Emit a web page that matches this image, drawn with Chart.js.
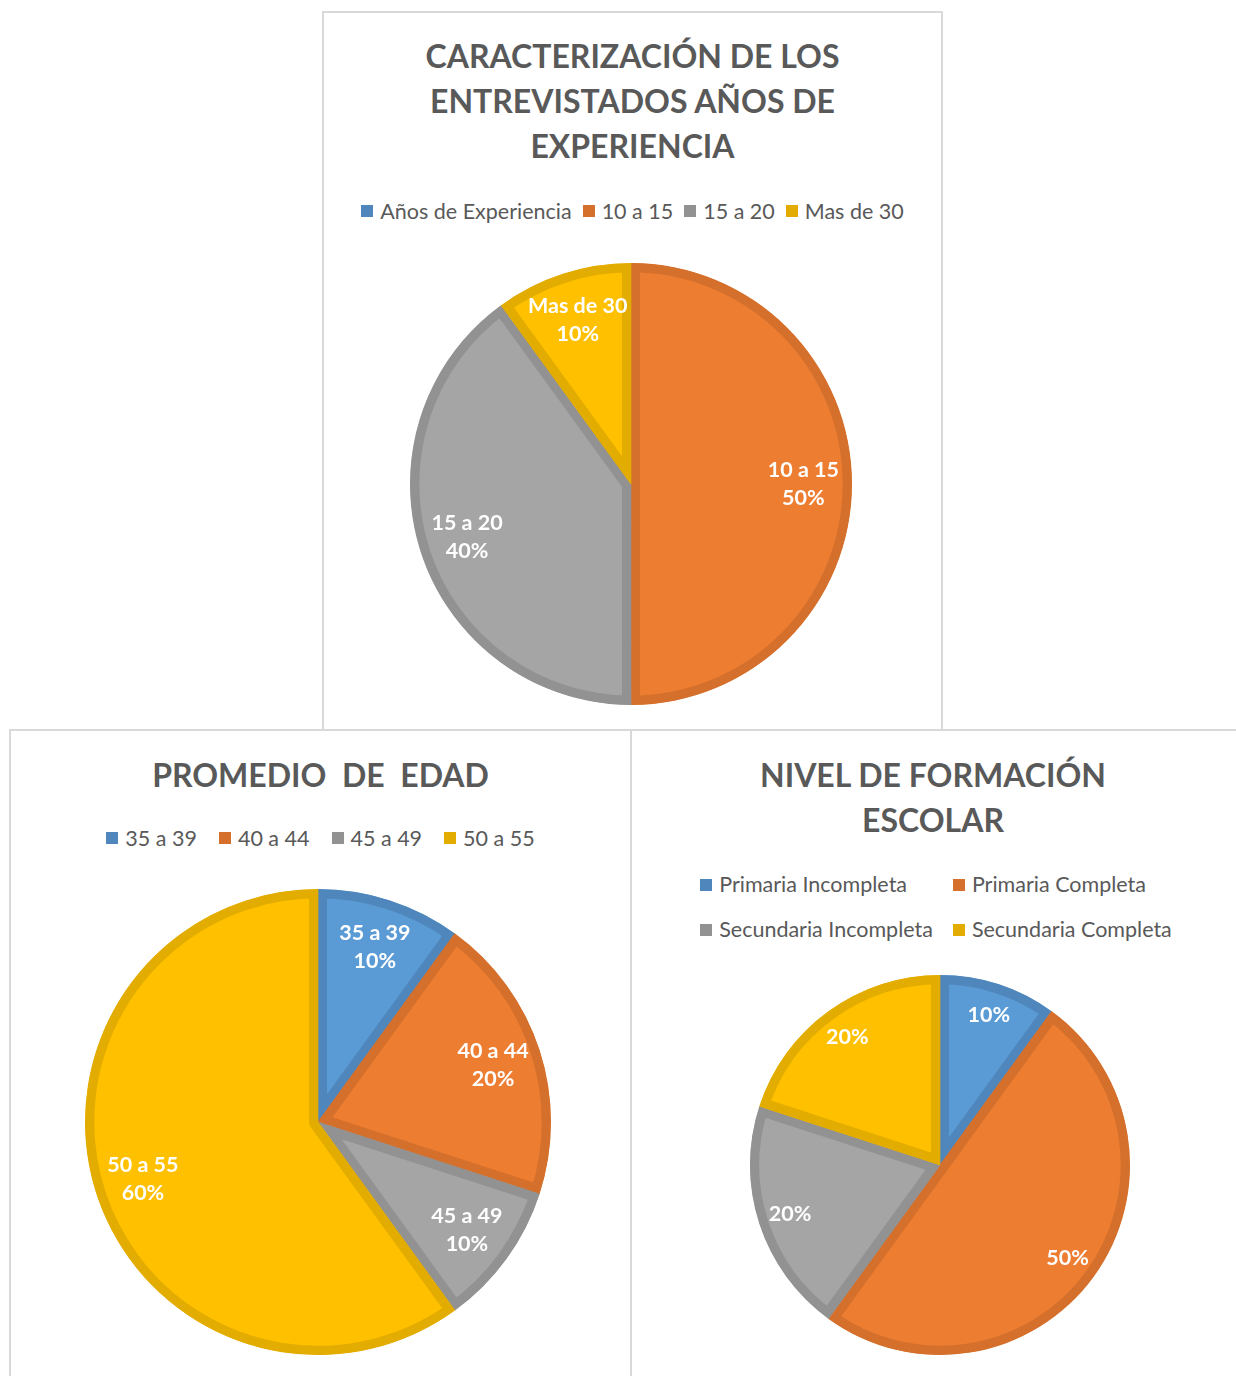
<!DOCTYPE html>
<html>
<head>
<meta charset="utf-8">
<script src="https://cdn.jsdelivr.net/npm/chart.js@4.4.0/dist/chart.umd.min.js"></script>
<style>
  body { margin: 0; width: 1236px; height: 1376px; position: relative; overflow: hidden; background: #fff;
         font-family: Lato, "Open Sans", sans-serif; color: #595959; }
  .box { position: absolute; border: 2px solid #d9d9d9; box-sizing: border-box; }
  .title { position: absolute; left: 0; right: 0; text-align: center; font-weight: bold; font-size: 32px;
           line-height: 45px; white-space: pre; }
  .legend { position: absolute; left: 0; right: 0; display: flex; justify-content: center; font-size: 21.5px; line-height: 24px; }
  .legend.grid { display: grid; grid-template-columns: auto auto; justify-content: center; column-gap: 20px; line-height: 45px; }
  .item { display: flex; align-items: center; white-space: pre; }
  .swatch { width: 12px; height: 12px; margin-right: 7px; }
  canvas { position: absolute; }
</style>
</head>
<body>
<div class="box" id="box1" style="left:322px;top:11px;width:621px;height:720px">
  <div class="title" style="top:20px">CARACTERIZACIÓN DE LOS
ENTREVISTADOS AÑOS DE
EXPERIENCIA</div>
  <div class="legend" id="legend1" style="top:186px;column-gap:11px"></div>
</div>
<div class="box" id="box2" style="left:9px;top:729px;width:623px;height:700px">
  <div class="title" style="top:21px">PROMEDIO  DE  EDAD</div>
  <div class="legend" id="legend2" style="top:95px;column-gap:22px"></div>
</div>
<div class="box" id="box3" style="left:630px;top:729px;width:620px;height:700px">
  <div class="title" style="top:21px;right:14px">NIVEL DE FORMACIÓN
ESCOLAR</div>
  <div class="legend grid" id="legend3" style="top:131px;right:8px"></div>
</div>

<canvas id="pie1" width="460" height="460" style="left:401px;top:254px"></canvas>
<canvas id="pie2" width="480" height="480" style="left:78px;top:882px"></canvas>
<canvas id="pie3" width="400" height="400" style="left:740px;top:965px"></canvas>

<script>
// data
const expLabels = ["Años de Experiencia", "10 a 15", "15 a 20", "Mas de 30"];
const expValues = [0, 50, 40, 10];

const ageLabels = ["35 a 39", "40 a 44", "45 a 49", "50 a 55"];
const ageValues = [10, 20, 10, 60];

const eduLabels = ["Primaria Incompleta", "Primaria Completa", "Secundaria Incompleta", "Secundaria Completa"];
const eduValues = [10, 50, 20, 20];

const fills = ["#5B9BD5", "#ED7D31", "#A5A5A5", "#FFC000"];
const edges = ["#4F87BD", "#D4702B", "#929292", "#E3AC00"];

function buildLegend(id, labels) {
  const el = document.getElementById(id);
  labels.forEach((name, i) => {
    const item = document.createElement("div");
    item.className = "item";
    item.innerHTML = `<span class="swatch" style="background:${edges[i]}"></span>${name}`;
    el.appendChild(item);
  });
}

// white labels inside each slice, like the office "best fit" labels
const sliceLabels = {
  id: "sliceLabels",
  afterDatasetsDraw(chart, args, opts) {
    const ctx = chart.ctx;
    const values = chart.data.datasets[0].data;
    const total = values.reduce((a, b) => a + b, 0);
    chart.getDatasetMeta(0).data.forEach((arc, i) => {
      if (!values[i]) return;
      const mid = (arc.startAngle + arc.endAngle) / 2;
      const r = arc.outerRadius * opts.frac;
      const x = arc.x + Math.cos(mid) * r;
      const y = arc.y + Math.sin(mid) * r;
      const pct = Math.round(values[i] / total * 100) + "%";
      const lines = opts.showName ? [chart.data.labels[i], pct] : [pct];
      ctx.save();
      ctx.fillStyle = "#fff";
      ctx.font = "bold 21.5px Lato, 'Open Sans', sans-serif";
      ctx.textAlign = "center";
      ctx.textBaseline = "middle";
      lines.forEach((t, k) => {
        ctx.fillText(t, x, y + (k - (lines.length - 1) / 2) * 28);
      });
      ctx.restore();
    });
  }
};

function makePie(id, labels, values, radius, frac, showName) {
  new Chart(document.getElementById(id), {
    type: "pie",
    data: {
      labels: labels,
      datasets: [{
        data: values,
        backgroundColor: fills,
        borderColor: edges,
        borderWidth: values.map(v => v ? 9 : 0),
        borderAlign: "inner",
        radius: radius,
      }]
    },
    options: {
      responsive: false,
      animation: false,
      plugins: {
        legend: { display: false },
        tooltip: { enabled: false },
        sliceLabels: { frac: frac, showName: showName },
      }
    },
    plugins: [sliceLabels]
  });
}

buildLegend("legend1", expLabels);
buildLegend("legend2", ageLabels);
buildLegend("legend3", eduLabels);

makePie("pie1", expLabels, expValues, 221, 0.78, true);
makePie("pie2", ageLabels, ageValues, 233, 0.79, true);
makePie("pie3", eduLabels, eduValues, 190, 0.83, false);
</script>
</body>
</html>
